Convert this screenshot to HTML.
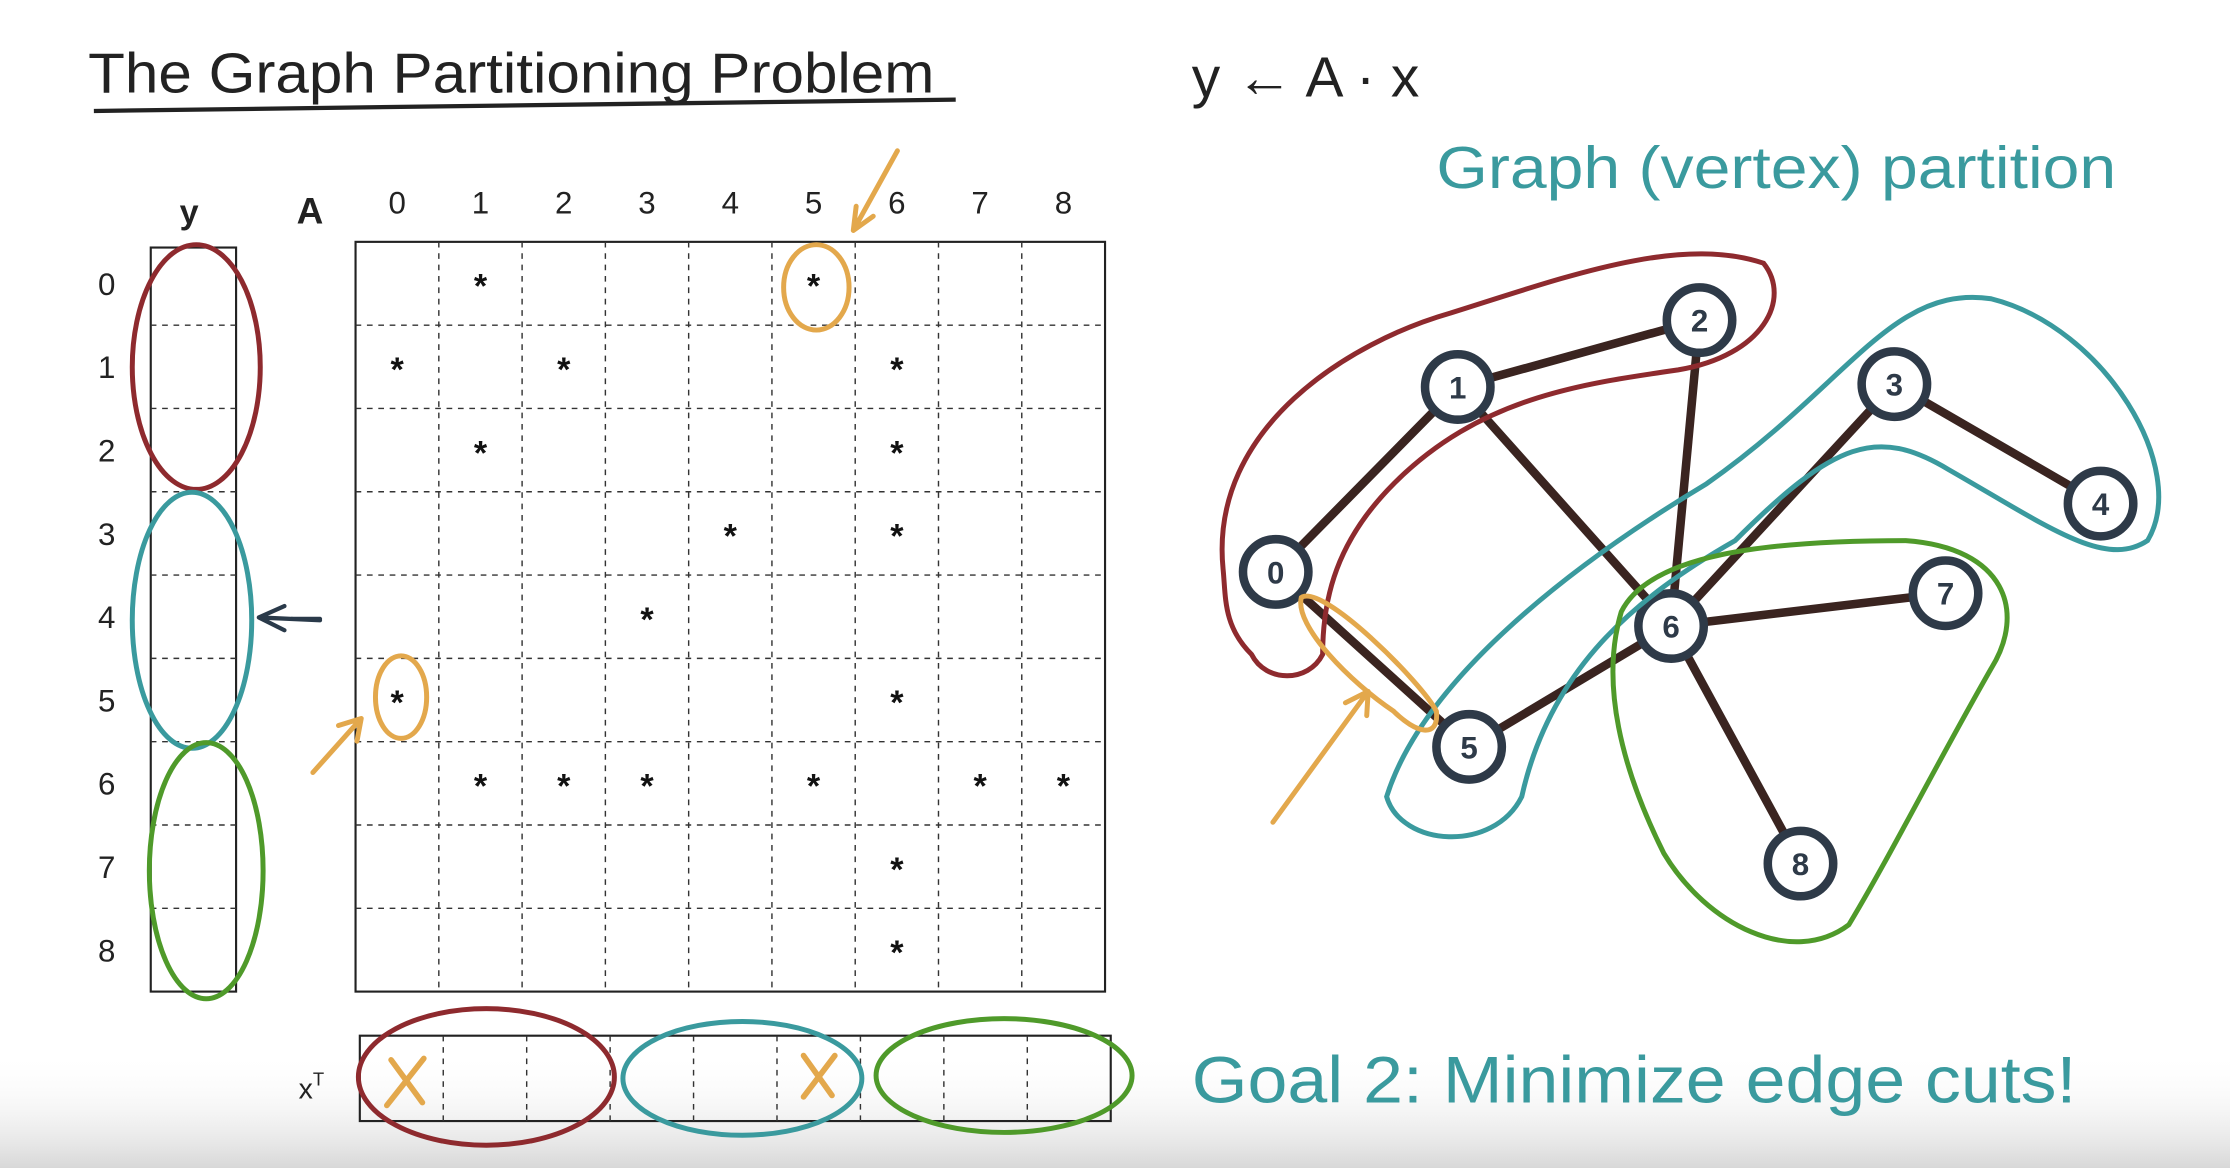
<!DOCTYPE html>
<html><head><meta charset="utf-8">
<style>
html,body{margin:0;padding:0;background:#fff;}
svg{display:block;}
text{font-family:"Liberation Sans",sans-serif;}
</style></head>
<body>
<svg id="s" width="2230" height="1168" viewBox="0 0 1568 821" preserveAspectRatio="none">
<rect x="0" y="0" width="1568" height="821" fill="#fff"/>
<defs><linearGradient id="fade" x1="0" y1="0" x2="0" y2="1"><stop offset="0" stop-color="#fff" stop-opacity="0"/><stop offset="1" stop-color="#d8d8d8"/></linearGradient></defs>
<rect x="0" y="740" width="1568" height="81" fill="url(#fade)"/>
<g>
<text x="62" y="65" font-size="40" fill="#222" textLength="595" lengthAdjust="spacingAndGlyphs">The Graph Partitioning Problem</text>
<line x1="66" y1="78" x2="672" y2="70" stroke="#222" stroke-width="3"/>
</g>
<text x="838" y="68" font-size="40" fill="#222">y ← A · x</text>
<text x="1010" y="132" font-size="42" fill="#3a9a9e" textLength="478" lengthAdjust="spacingAndGlyphs">Graph (vertex) partition</text>
<text x="838" y="775" font-size="46" fill="#3a9a9e" textLength="622" lengthAdjust="spacingAndGlyphs">Goal 2: Minimize edge cuts!</text>
<text x="133" y="157" font-size="24" font-weight="bold" text-anchor="middle" fill="#222">y</text>
<text x="218" y="157" font-size="26" font-weight="bold" text-anchor="middle" fill="#222">A</text>
<text x="210" y="772" font-size="20" fill="#222">x<tspan font-size="13" dy="-9">T</tspan></text>
<g id="mat"></g>
<g id="graph"></g>
<g fill="none" stroke-width="3.5" stroke-linecap="round">
<ellipse cx="138" cy="258" rx="45" ry="86" stroke="#8e2a2e"/>
<ellipse cx="135" cy="436" rx="42" ry="90" stroke="#3a9a9e"/>
<ellipse cx="145" cy="612" rx="40" ry="90" stroke="#4f9a2a"/>
<ellipse cx="342" cy="757" rx="90" ry="48" stroke="#8e2a2e"/>
<ellipse cx="522" cy="758" rx="84" ry="40" stroke="#3a9a9e"/>
<ellipse cx="706" cy="756" rx="90" ry="40" stroke="#4f9a2a"/>
<ellipse cx="574" cy="202" rx="23" ry="30" stroke="#e3a84c"/>
<ellipse cx="282" cy="490" rx="18" ry="29" stroke="#e3a84c"/>
<path d="M631 106 L600 162 M600 162 L602 145 M600 162 L614 152" stroke="#e3a84c"/>
<path d="M220 543 L254 505 M254 505 L238 510 M254 505 L251 521" stroke="#e3a84c"/>
<path d="M205 435 L225 435 M182 434 L200 426 M182 434 L200 443 M182 434 L225 436" stroke="#2a3a4a" stroke-width="3"/>
<path d="M275 745 L297 775 M298 744 L272 777" stroke="#e3a84c" stroke-width="4"/>
<path d="M565 742 L585 770 M587 742 L565 771" stroke="#e3a84c" stroke-width="4"/>
<path d="M860 400 C850 300 950 240 1020 220 C1100 195 1180 165 1240 185 C1260 210 1240 250 1180 260 C1110 270 1040 280 980 340 C940 380 930 420 930 460 C920 480 890 480 880 460 C860 440 862 420 860 400 Z" stroke="#8e2a2e"/>
<path d="M975 560 C1000 480 1100 400 1200 340 C1300 270 1330 200 1400 210 C1480 230 1540 330 1510 380 C1480 400 1440 370 1370 330 C1320 300 1290 310 1220 380 C1150 420 1090 470 1070 560 C1050 600 985 595 975 560 Z" stroke="#3a9a9e"/>
<path d="M1140 430 C1160 390 1240 380 1340 380 C1410 385 1425 430 1400 470 C1360 540 1330 600 1300 650 C1260 680 1200 650 1170 600 C1140 540 1125 480 1140 430 Z" stroke="#4f9a2a"/>
<path d="M915 420 C930 410 1000 480 1010 500 C1012 520 995 515 980 500 C950 480 910 440 915 420 Z" stroke="#e3a84c"/>
<path d="M895 578 L962 486 M962 486 L946 494 M962 486 L961 503" stroke="#e3a84c"/>
</g>
</svg>
<script>
const N = 9;
const colLabels = ["0","1","2","3","4","5","6","7","8"];
const starRows = [0,0,1,1,1,2,2,3,3,4,5,5,6,6,6,6,6,6,7,8];
const starCols = [1,5,0,2,6,1,6,4,6,3,0,6,1,2,3,5,7,8,6,6];
const nodeIds = ["0","1","2","3","4","5","6","7","8"];
const nodeX = [897,1025,1195,1332,1477,1033,1175,1368,1266];
const nodeY = [402,272,225,270,354,525,440,417,607];
const edgeFrom = [0,1,1,2,0,5,3,3,6,6];
const edgeTo   = [1,2,6,6,5,6,6,4,7,8];

const NS="http://www.w3.org/2000/svg";
function mk(tag,attrs,parent){const e=document.createElementNS(NS,tag);for(const k in attrs)e.setAttribute(k,attrs[k]);parent.appendChild(e);return e;}
const mat=document.getElementById('mat');
// matrix axes
const mx0=250,my0=170,cell=(777-250)/N;
const X=c=>mx0+cell*(c+0.5), Y=r=>my0+cell*(r+0.5);
let m=mk('rect',{x:mx0,y:my0,width:cell*N,height:cell*N,fill:'none',stroke:'#222','stroke-width':1.5},mat);


for(let i=1;i<N;i++){
  mk('line',{x1:mx0+cell*i,y1:my0,x2:mx0+cell*i,y2:my0+cell*N,stroke:'#333','stroke-dasharray':'4 4'},mat);
  mk('line',{x1:mx0,y1:my0+cell*i,x2:mx0+cell*N,y2:my0+cell*i,stroke:'#333','stroke-dasharray':'4 4'},mat);
}
colLabels.forEach((l,i)=>{
  let t=mk('text',{x:X(i),y:150,'font-size':22,'text-anchor':'middle',fill:'#222'},mat);t.textContent=l;
  
  
  let r=mk('text',{x:75,y:Y(i)+8,'font-size':22,'text-anchor':'middle',fill:'#222'},mat);r.textContent=l;
  
  
});
starRows.forEach((r,i)=>{
  let t=mk('text',{x:X(starCols[i]),y:Y(r)+10,'font-size':24,'font-weight':'bold','text-anchor':'middle',fill:'#111'},mat);t.textContent='*';
  
  
});
// y vector
let yv=mk('rect',{x:106,y:my0+4,width:60,height:cell*N-4,fill:'none',stroke:'#222','stroke-width':1.5},mat);


for(let i=1;i<N;i++)mk('line',{x1:106,y1:my0+cell*i,x2:166,y2:my0+cell*i,stroke:'#333','stroke-dasharray':'4 4'},mat);
// x vector
let xv=mk('rect',{x:253,y:728,width:528,height:60,fill:'none',stroke:'#222','stroke-width':1.5},mat);


for(let i=1;i<N;i++)mk('line',{x1:253+528/N*i,y1:728,x2:253+528/N*i,y2:788,stroke:'#333','stroke-dasharray':'4 4'},mat);
// graph
const g=document.getElementById('graph');
edgeFrom.forEach((a,i)=>{
  const b=edgeTo[i];
  let l=mk('line',{x1:nodeX[a],y1:nodeY[a],x2:nodeX[b],y2:nodeY[b],stroke:'#3a2420','stroke-width':6},g);
  
  
});
nodeIds.forEach((id,i)=>{
  let c=mk('circle',{cx:nodeX[i],cy:nodeY[i],r:23,fill:'#fff',stroke:'#2e3a48','stroke-width':6},g);
  
  
  let t=mk('text',{x:nodeX[i],y:nodeY[i]+8,'font-size':22,'font-weight':'bold','text-anchor':'middle',fill:'#2e3a48'},g);t.textContent=id;
  
  
});
</script>
</body></html>
